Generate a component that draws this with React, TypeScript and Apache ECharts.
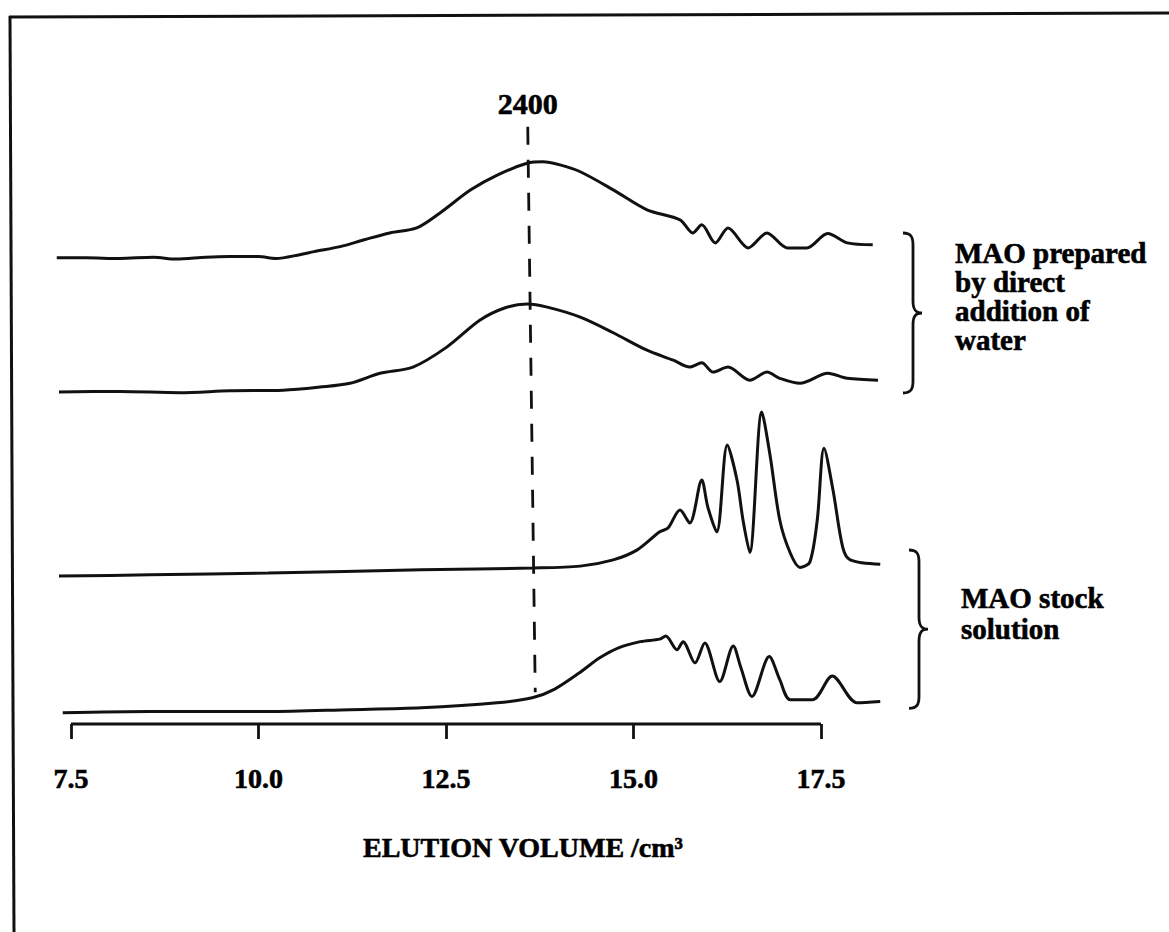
import React, { useEffect, useRef } from "react";
import * as echarts from "echarts";

// ---- data ----
const xTicks = [7.5, 10.0, 12.5, 15.0, 17.5];
const xAxisTitle = "ELUTION VOLUME /cm³";
const markerLabel = "2400";
const markerVolume = [13.59, 13.69]; // top, bottom of the dashed marker
const markerSpan = [95.7, 5.1];
const groupLabels = ["MAO prepared\nby direct\naddition of\nwater", "MAO stock\nsolution"];

// vertical offsets (a.u.) of the four stacked traces, top to bottom
const traceOffsets = [74.7, 53.2, 23.7, 1.8];

const trace1Volume = [7.31, 7.7, 8.15, 8.6, 8.9, 9.3, 9.62, 10.0, 10.23, 10.55, 10.74, 11.09, 11.41, 11.75, 12.11, 12.42, 12.83, 13.19, 13.59, 13.79, 14.02, 14.29, 14.73, 15.18, 15.62, 15.79, 15.91, 16.09, 16.26, 16.53, 16.78, 17.05, 17.31, 17.59, 17.85, 18.19];
const trace1Signal = [0, 0, -0.1, 0.1, -0.2, 0.1, 0.2, 0.2, -0.1, 0.5, 1.0, 1.8, 2.9, 4.0, 4.8, 7.2, 10.9, 13.3, 15.2, 15.4, 14.9, 13.8, 10.9, 7.7, 6.1, 4.0, 5.3, 2.4, 4.8, 1.6, 4.0, 1.6, 1.6, 3.9, 2.4, 2.1];

const trace2Volume = [7.34, 8.15, 8.95, 9.62, 10.33, 10.82, 11.22, 11.62, 12.06, 12.51, 12.95, 13.29, 13.58, 13.85, 14.29, 14.73, 15.18, 15.53, 15.75, 15.91, 16.06, 16.26, 16.55, 16.78, 16.95, 17.22, 17.59, 17.85, 18.26];
const trace2Signal = [0, 0.1, -0.1, 0.2, 0.3, 0.8, 1.4, 3.0, 4.0, 7.2, 11.5, 13.5, 14.1, 13.6, 12.0, 9.5, 6.7, 5.1, 4.0, 4.7, 3.2, 4.0, 1.9, 3.2, 2.2, 1.4, 3.0, 2.2, 1.9];

const trace3Volume = [7.34, 8.55, 10.13, 12.17, 13.65, 14.29, 14.73, 15.05, 15.35, 15.46, 15.62, 15.75, 15.91, 15.99, 16.11, 16.25, 16.38, 16.46, 16.55, 16.71, 16.82, 16.95, 17.09, 17.22, 17.35, 17.45, 17.54, 17.66, 17.79, 17.89, 18.29];
const trace3Signal = [0, 0.2, 0.5, 1.0, 1.3, 1.6, 2.6, 4.2, 7.1, 7.7, 10.6, 8.5, 15.4, 11.1, 7.1, 21.0, 15.4, 9.0, 3.8, 26.3, 19.4, 9.0, 3.7, 1.4, 2.2, 9.0, 20.5, 13.8, 4.6, 2.6, 1.9];

const trace4Volume = [7.39, 8.55, 10.13, 11.22, 12.17, 13.18, 13.65, 13.95, 14.29, 14.55, 14.8, 15.09, 15.35, 15.43, 15.58, 15.66, 15.82, 15.95, 16.15, 16.33, 16.43, 16.58, 16.81, 16.95, 17.09, 17.39, 17.65, 17.98, 18.29];
const trace4Signal = [0, 0.2, 0.2, 0.5, 0.8, 1.6, 2.4, 3.8, 6.5, 8.8, 10.4, 11.4, 11.8, 12.3, 10.1, 11.4, 8.0, 11.2, 5.0, 10.7, 7.3, 2.6, 9.0, 5.3, 2.1, 2.1, 5.9, 1.6, 1.8];

const traceVolumes = [trace1Volume, trace2Volume, trace3Volume, trace4Volume];
const traceSignals = [trace1Signal, trace2Signal, trace3Signal, trace4Signal];

const INK = "#111";
const FONT = "'Liberation Serif', 'Times New Roman', serif";

let braceRegistered = false;
function registerBrace() {
  if (braceRegistered) return;
  braceRegistered = true;
  echarts.graphic.registerShape(
    "brace",
    echarts.graphic.extendPath(
      "M0,0 C8,0 10,4 10,12 L10,68 C10,76 12,80 19,80 C12,80 10,84 10,92 L10,148 C10,156 8,160 0,160",
      {}
    )
  );
}

export default function App() {
  const ref = useRef<HTMLDivElement>(null);

  useEffect(() => {
    if (!ref.current) return;
    registerBrace();
    const chart = echarts.init(ref.current, undefined, { renderer: "svg" });

    const traceSeries = traceVolumes.map((vols, i) => ({
      type: "line",
      data: vols.map((v, j) => [v, traceSignals[i][j] + traceOffsets[i]]),
      symbol: "none",
      showSymbol: false,
      smooth: 0.3,
      clip: false,
      silent: true,
      lineStyle: { color: INK, width: 3 },
      z: 3,
    }));

    const textInk = { textBorderColor: "#000", textBorderWidth: 0.6 };

    const option: any = {
      animation: false,
      backgroundColor: "#fff",
      grid: { left: 48.5, right: 280.5, top: 100, bottom: 208, containLabel: false },
      xAxis: {
        type: "value",
        min: 7.2,
        max: 18.4,
        axisLine: { show: false },
        axisTick: { show: true, length: 15, customValues: xTicks, lineStyle: { color: INK, width: 2.8 } },
        axisLabel: {
          show: true,
          customValues: xTicks,
          margin: 40,
          fontSize: 28,
          fontWeight: "bold",
          fontFamily: FONT,
          color: "#000",
          ...textInk,
          formatter: (v: number) => v.toFixed(1),
        },
        splitLine: { show: false },
      },
      yAxis: { type: "value", min: 0, max: 100, show: false },
      series: [
        ...traceSeries,
        {
          // axis baseline spanning the labelled range
          type: "line",
          data: [
            [xTicks[0], 0],
            [xTicks[xTicks.length - 1], 0],
          ],
          symbol: "none",
          clip: false,
          silent: true,
          lineStyle: { color: INK, width: 2.8 },
          z: 4,
        },
        {
          type: "line",
          data: [
            [markerVolume[0], markerSpan[0]],
            [markerVolume[1], markerSpan[1]],
          ],
          symbol: "none",
          clip: false,
          silent: true,
          lineStyle: { color: INK, width: 2.8, type: [18, 15] },
          z: 2,
        },
        {
          type: "scatter",
          data: [[markerVolume[0], markerSpan[0]]],
          symbolSize: 0,
          itemStyle: { color: INK, opacity: 1 },
          silent: true,
          label: {
            show: true,
            position: "top",
            distance: 8,
            formatter: markerLabel,
            fontSize: 30,
            fontWeight: "bold",
            fontFamily: FONT,
            color: "#000",
            opacity: 1,
            ...textInk,
          },
        },
      ],
      graphic: [
        { type: "line", shape: { x1: 9, y1: 17, x2: 1169, y2: 13 }, style: { stroke: INK, lineWidth: 3 }, silent: true },
        { type: "line", shape: { x1: 10, y1: 16, x2: 14, y2: 932 }, style: { stroke: INK, lineWidth: 3 }, silent: true },
        { type: "brace", x: 903, y: 233, scaleX: 1, scaleY: 1, style: { stroke: INK, lineWidth: 2.8, fill: "none" }, silent: true },
        { type: "brace", x: 909, y: 550, scaleX: 1, scaleY: 0.99, style: { stroke: INK, lineWidth: 2.8, fill: "none" }, silent: true },
        {
          type: "text",
          x: 955,
          y: 238.5,
          silent: true,
          style: {
            text: groupLabels[0],
            fill: "#000",
            stroke: "#000",
            lineWidth: 0.6,
            fontSize: 29,
            fontWeight: "bold",
            fontFamily: FONT,
            lineHeight: 29,
            verticalAlign: "top",
            align: "left",
          },
        },
        {
          type: "text",
          x: 961,
          y: 582,
          silent: true,
          style: {
            text: groupLabels[1],
            fill: "#000",
            stroke: "#000",
            lineWidth: 0.6,
            fontSize: 29,
            fontWeight: "bold",
            fontFamily: FONT,
            lineHeight: 31,
            verticalAlign: "top",
            align: "left",
          },
        },
        {
          type: "text",
          x: 523,
          y: 847,
          silent: true,
          style: {
            text: xAxisTitle,
            fill: "#000",
            stroke: "#000",
            lineWidth: 0.6,
            fontSize: 28,
            fontWeight: "bold",
            fontFamily: FONT,
            align: "center",
            verticalAlign: "middle",
          },
        },
      ],
    };

    chart.setOption(option);
    return () => chart.dispose();
  }, []);

  return (
    <div
      ref={ref}
      style={{ position: "absolute", left: 0, top: 0, width: 1169, height: 932, background: "#fff" }}
    />
  );
}
